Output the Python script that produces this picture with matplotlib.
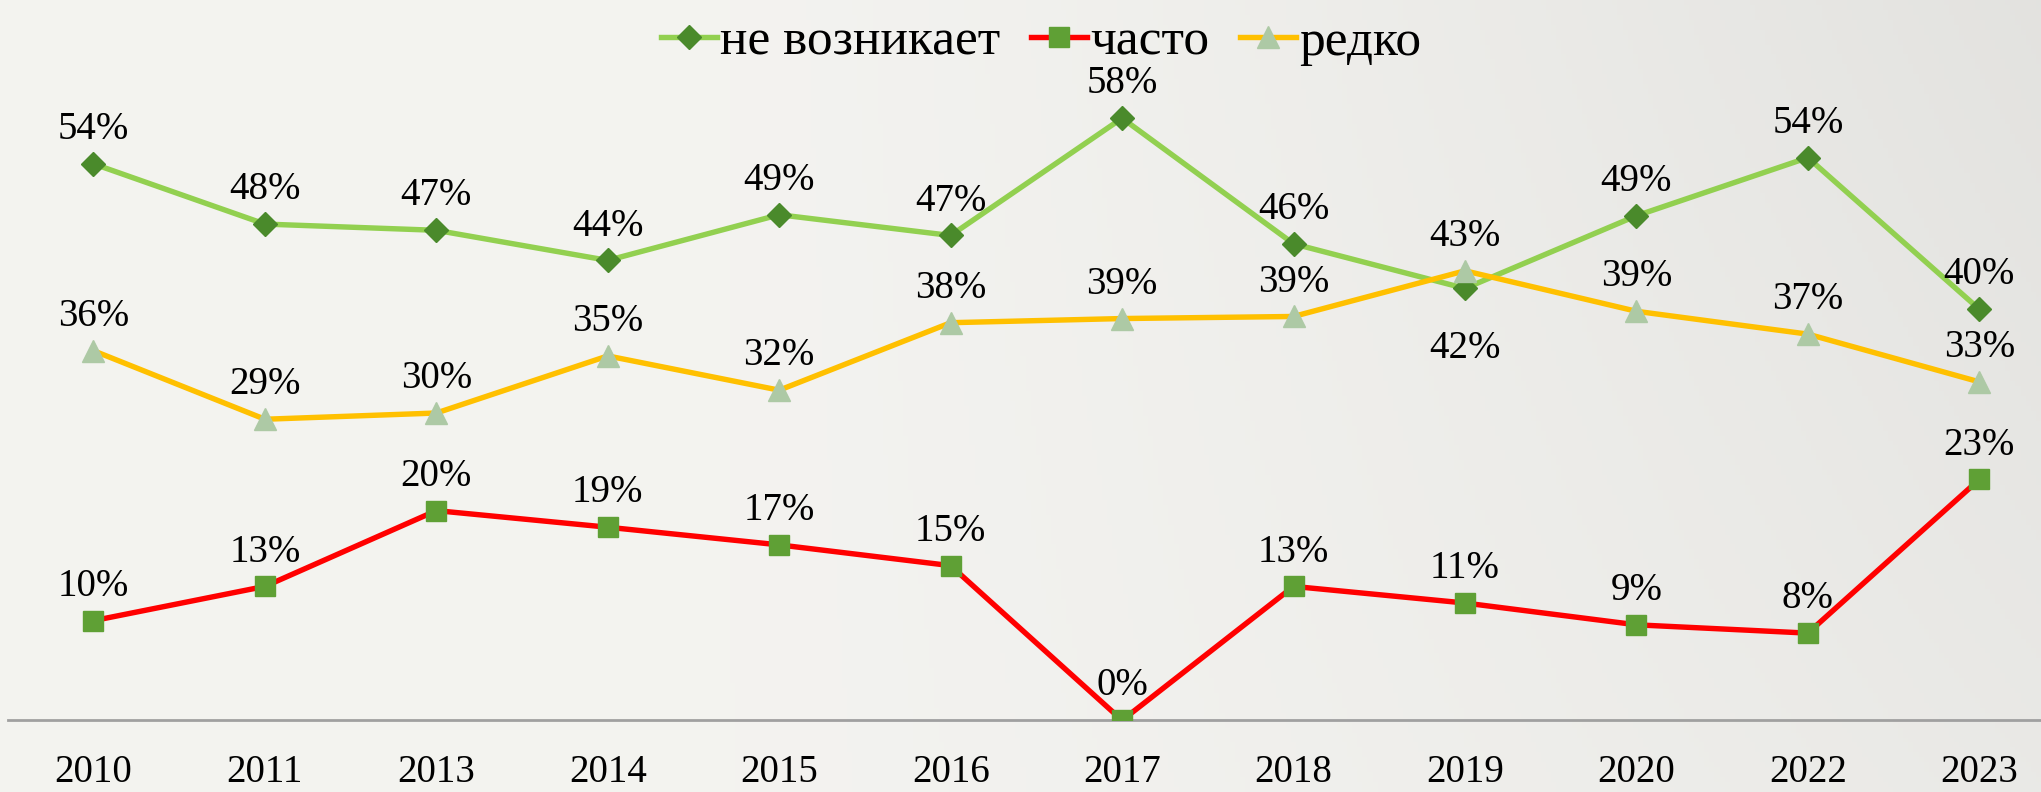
import numpy as np
import matplotlib
matplotlib.use("Agg")
import matplotlib.pyplot as plt

# data
years = ["2010", "2011", "2013", "2014", "2015", "2016", "2017", "2018", "2019", "2020", "2022", "2023"]
never = [53.6, 47.8, 47.2, 44.3, 48.7, 46.7, 58.0, 45.9, 41.6, 48.6, 54.2, 39.6]
often = [9.6, 12.9, 20.2, 18.6, 16.9, 14.9, 0.0, 12.9, 11.3, 9.2, 8.4, 23.2]
rarely = [35.6, 29.0, 29.6, 35.1, 31.8, 38.3, 38.7, 38.9, 43.3, 39.4, 37.2, 32.6]

plt.rcParams['font.family'] = ['Liberation Serif', 'DejaVu Serif']

fig = plt.figure(figsize=(20.41, 7.92), dpi=100)

# background gradient (light grey, darker to the right)
bg = fig.add_axes([0, 0, 1, 1], zorder=-10)
gx = np.linspace(0, 1, 400)
gy = np.linspace(0, 1, 160)
X, Y = np.meshgrid(gx, gy)
shade = 0.955 - 0.065 * np.clip((X - 0.35) / 0.65, 0, 1) ** 1.3 * (0.6 + 0.4 * (1 - Y))
img = np.dstack([shade, shade * 0.998, shade * 0.985])
bg.imshow(img, aspect='auto', extent=[0, 1, 0, 1], origin='upper')
bg.axis('off')

ax = fig.add_axes([0.0038, 0.0905, 0.9962, 0.7865])
ax.patch.set_alpha(0)
x = np.arange(len(years))

ax.plot(x, never, color='#92d050', lw=3.9, marker='D', ms=12.5,
        mfc='#4a8a2b', mec='#4a8a2b', label='не возникает', zorder=3)
ax.plot(x, often, color='#ff0000', lw=3.9, marker='s', ms=15,
        mfc='#5fa035', mec='#5fa035', label='часто', zorder=3)
ax.plot(x, rarely, color='#ffc000', lw=3.9, marker='^', ms=16,
        mfc='#adc9a5', mec='#adc9a5', label='редко', zorder=3)

def labels(vals, below=()):
    for i, v in enumerate(vals):
        dy = -40 if i in below else 28
        ax.annotate(f"{v:.0f}%", (x[i], v), xytext=(0, dy), textcoords='offset points',
                    ha='center', va='center_baseline', fontsize=28, color='black')

labels(never, below=(8,))
labels(often)
labels(rarely)

ax.set_xlim(-0.5, 11.36)
ax.set_ylim(0, 60)
ax.set_xticks(x)
ax.set_xticklabels(years, fontsize=28)
ax.tick_params(axis='x', length=0, pad=24)
ax.set_yticks([])
for s in ['top', 'right', 'left']:
    ax.spines[s].set_visible(False)
ax.spines['bottom'].set_color('#a0a0a0')
ax.spines['bottom'].set_linewidth(2)

fig.legend(loc='upper center', bbox_to_anchor=(0.51, 1.035), ncol=3, frameon=False,
           fontsize=37, handlelength=1.1, handletextpad=0.05, columnspacing=0.6)

fig.savefig("out.png", dpi=100)
